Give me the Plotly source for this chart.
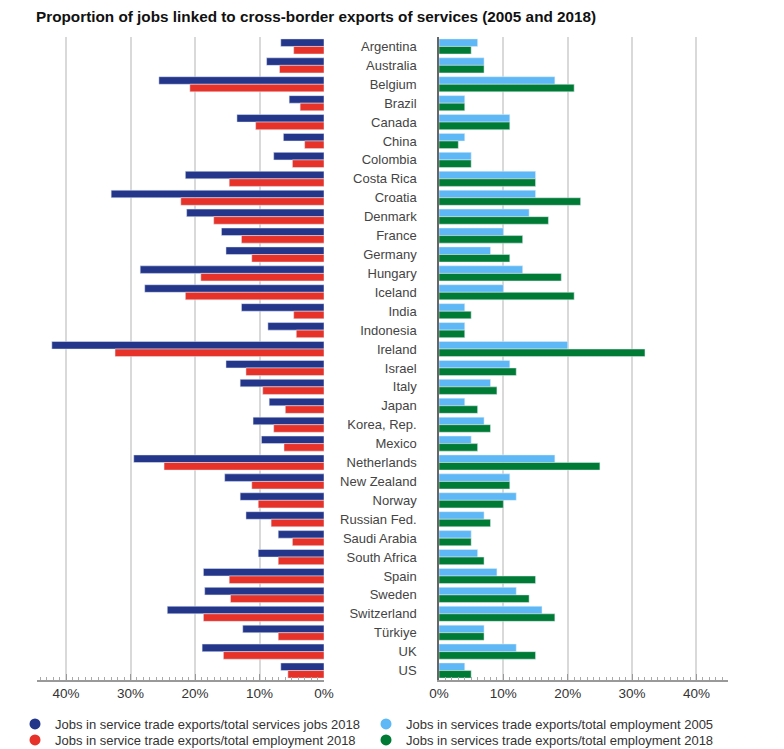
import plotly.graph_objects as go

countries = ["Argentina", "Australia", "Belgium", "Brazil", "Canada", "China", "Colombia",
             "Costa Rica", "Croatia", "Denmark", "France", "Germany", "Hungary", "Iceland",
             "India", "Indonesia", "Ireland", "Israel", "Italy", "Japan", "Korea, Rep.",
             "Mexico", "Netherlands", "New Zealand", "Norway", "Russian Fed.", "Saudi Arabia",
             "South Africa", "Spain", "Sweden", "Switzerland", "Türkiye", "UK", "US"]

services_jobs_2018 = [6.7, 8.9, 25.6, 5.4, 13.5, 6.3, 7.8, 21.5, 33.0, 21.3, 15.9, 15.2, 28.5, 27.8,
                      12.8, 8.7, 42.2, 15.2, 13.0, 8.5, 11.0, 9.7, 29.5, 15.4, 13.0, 12.1, 7.1,
                      10.2, 18.7, 18.5, 24.3, 12.6, 18.9, 6.7]
total_emp_2018_left = [4.7, 6.9, 20.8, 3.7, 10.6, 3.0, 4.9, 14.7, 22.2, 17.1, 12.8, 11.2, 19.1, 21.5,
                       4.7, 4.3, 32.4, 12.1, 9.5, 6.0, 7.8, 6.2, 24.8, 11.2, 10.2, 8.2, 4.9,
                       7.1, 14.7, 14.5, 18.7, 7.1, 15.6, 5.6]
total_emp_2005 = [6, 7, 18, 4, 11, 4, 5, 15, 15, 14, 10, 8, 13, 10, 4, 4, 20, 11, 8, 4, 7, 5, 18,
                  11, 12, 7, 5, 6, 9, 12, 16, 7, 12, 4]
total_emp_2018_right = [5, 7, 21, 4, 11, 3, 5, 15, 22, 17, 13, 11, 19, 21, 5, 4, 32, 12, 9, 6, 8, 6,
                        25, 11, 10, 8, 5, 7, 15, 14, 18, 7, 15, 5]

tick_vals = [0, 10, 20, 30, 40]
tick_text = ["0%", "10%", "20%", "30%", "40%"]

names = ["Jobs in service trade exports/total services jobs 2018",
         "Jobs in service trade exports/total employment 2018",
         "Jobs in services trade exports/total employment 2005",
         "Jobs in services trade exports/total employment 2018"]
colors = ["#24368a", "#e63228", "#5db8f5", "#007b35"]

FONT = "Liberation Sans, Arial, sans-serif"
O = 8  # page offset of the figure (body margin)
W, H = 784 - O, 749
ml, mr, mt, mb = 37 - O, 784 - 728, 37 - O, (H + O) - 680
pw, ph = W - ml - mr, H - mt - mb


def px_x(x):  # page x -> paper
    return (x - O - ml) / pw


def px_y(y):  # page y -> paper
    return (H - mb - (y - O)) / ph


def cx(x):  # page x -> container
    return (x - O) / W


def cy(y):  # page y -> container
    return 1 - (y - O) / H


fig = go.Figure()

fig.add_trace(go.Bar(y=countries, x=services_jobs_2018, orientation="h", marker_color=colors[0],
                     xaxis="x", yaxis="y", showlegend=False, name=names[0]))
fig.add_trace(go.Bar(y=countries, x=total_emp_2018_left, orientation="h", marker_color=colors[1],
                     xaxis="x", yaxis="y", showlegend=False, name=names[1]))
fig.add_trace(go.Bar(y=countries, x=total_emp_2005, orientation="h", marker_color=colors[2],
                     xaxis="x2", yaxis="y2", showlegend=False, name=names[2]))
fig.add_trace(go.Bar(y=countries, x=total_emp_2018_right, orientation="h", marker_color=colors[3],
                     xaxis="x2", yaxis="y2", showlegend=False, name=names[3]))

legend_ids = ["legend", "legend2", "legend3", "legend4"]
for nm, col, lid in zip(names, colors, legend_ids):
    fig.add_trace(go.Scatter(x=[None], y=[None], mode="markers", name=nm,
                             marker=dict(color=col, size=11, symbol="circle"),
                             xaxis="x", yaxis="y", legend=lid, hoverinfo="skip"))

axis_font = dict(family=FONT, size=13.5, color="#333333")
common_x = dict(tickvals=tick_vals, ticktext=tick_text, ticks="inside", ticklen=6,
                tickcolor="#999999", tickwidth=1, showline=True, linecolor="#999999",
                linewidth=1.5, showgrid=True, gridcolor="#d9d9d9", gridwidth=1.5,
                tickfont=axis_font, fixedrange=True,
                minor=dict(dtick=1, ticks="inside", ticklen=3, tickcolor="#aaaaaa",
                           showgrid=False))

legend_font = dict(size=13, color="#333333", family=FONT)
legend_pos = {"legend": (15, 724), "legend2": (15, 740), "legend3": (366, 724), "legend4": (366, 740)}
legends = {}
for lid, (lx, ly) in legend_pos.items():
    legends[lid] = dict(x=px_x(lx), y=px_y(ly), xanchor="left", yanchor="middle",
                        orientation="v", itemwidth=30,
                        font=legend_font, bgcolor="rgba(0,0,0,0)")

fig.update_layout(
    width=W, height=H,
    margin=dict(l=ml, r=mr, t=mt, b=mb, autoexpand=False),
    paper_bgcolor="white", plot_bgcolor="white",
    barmode="group", bargap=0.2, bargroupgap=0,
    font=dict(family=FONT),
    title=dict(text="<b>Proportion of jobs linked to cross-border exports of services (2005 and 2018)</b>",
               x=cx(36), xref="container", xanchor="left",
               y=cy(17), yref="container", yanchor="middle",
               font=dict(size=15.3, color="#111111", family=FONT)),
    xaxis=dict(domain=[0, px_x(324)], range=[44.5, 0], anchor="y",
               zeroline=True, zerolinecolor="white", zerolinewidth=2, **common_x),
    xaxis2=dict(domain=[px_x(439), 1], range=[0, 44.9], anchor="y2",
                zeroline=False, **common_x),
    yaxis=dict(type="category", categoryorder="array", categoryarray=countries,
               range=[33.5, -0.5], anchor="x", showticklabels=False, showgrid=False,
               zeroline=False, fixedrange=True),
    yaxis2=dict(type="category", categoryorder="array", categoryarray=countries,
                range=[33.5, -0.5], anchor="x2", matches="y", showgrid=False, zeroline=False,
                showline=True, linecolor="#666666", linewidth=1.5,
                ticks="", ticklabelstandoff=18,
                tickfont=dict(family=FONT, size=13, color="#444444"),
                fixedrange=True),
    shapes=[dict(type="rect", xref="paper", yref="paper",
                 x0=px_x(778), x1=px_x(784 - O + 40), y0=px_y(H + O), y1=px_y(O),
                 fillcolor="#f4f4f4", line=dict(width=0), layer="below")],
    **legends,
)

fig.write_html("out.html")
